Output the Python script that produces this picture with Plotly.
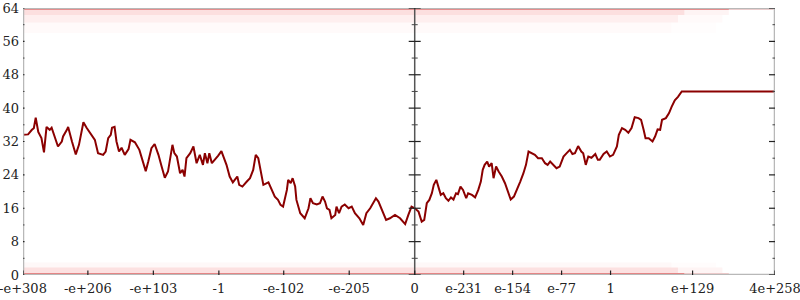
import plotly.graph_objects as go

# x axis: "decade index" (left half: -e+308 .. -0, right half: +0 .. 4e+258)
x_tick_vals = [0, 102, 205, 308, 410, 513, 616, 693, 770, 847, 924, 1053, 1182.6]
x_tick_text = ["-e+308", "-e+206", "-e+103", "-1", "-e-102", "-e-205", "0",
               "e-231", "e-154", "e-77", "1", "e+129", "4e+258"]
y_tick_vals = [0, 8, 16, 24, 32, 40, 48, 56, 64]
y_minor_vals = [4, 12, 20, 28, 36, 44, 52, 60]
x_min, x_mid, x_max = 0, 616, 1182.6

line_x = [0, 8, 14, 17, 20, 24, 29, 33, 37, 42, 45, 50, 55, 61, 63, 69, 71, 77, 83, 88,
          92, 95, 100, 108, 113, 118, 126, 130, 134, 138, 140, 144, 147, 151, 155, 160,
          166, 169, 176, 183, 189, 193, 197, 202, 207, 213, 218, 223, 228, 232, 235, 238,
          242, 247, 251, 254, 257, 263, 268, 273, 278, 283, 286, 290, 293, 297, 302, 307,
          312, 316, 320, 325, 330, 333, 337, 340, 345, 352, 357, 362, 366, 370, 374, 378,
          386, 391, 396, 401, 405, 409, 415, 417, 421, 424, 428, 430, 436, 443, 449, 452,
          456, 462, 467, 471, 475, 478, 482, 485, 491, 493, 497, 501, 506, 512, 517, 522,
          529, 535, 540, 546, 551, 555, 559, 564, 571, 577, 585, 593, 601, 606, 611, 616,
          622, 627, 631, 635, 639, 643, 646, 650, 653, 657, 661, 665, 669, 673, 677, 681,
          684, 688, 692, 697, 700, 706, 711, 716, 720, 723, 726, 730, 733, 737, 740, 744,
          748, 753, 758, 763, 767, 772, 777, 782, 787, 791, 795, 800, 805, 810, 816, 821,
          825, 829, 834, 839, 844, 850, 855, 860, 864, 868, 873, 878, 881, 885, 889, 894,
          900, 904, 907, 913, 918, 923, 928, 934, 937, 942, 947, 952, 957, 962, 968, 972,
          976, 979, 984, 990, 994, 998, 1002, 1005, 1011, 1016, 1020, 1025, 1030, 1036, 1182.6]
line_y = [33.6, 33.7, 34.8, 35.2, 37.7, 34.3, 32.8, 29.4, 35.5, 34.8, 35.3, 33.2, 30.8, 32.0,
          33.2, 34.8, 35.5, 32.0, 28.9, 31.2, 34.0, 36.6, 35.3, 33.6, 32.4, 29.2, 28.8, 29.6,
          32.8, 33.6, 35.3, 35.5, 32.0, 29.6, 30.5, 28.8, 30.2, 32.4, 31.8, 30.0, 27.2, 24.9,
          27.2, 30.4, 31.4, 28.8, 26.0, 23.3, 24.8, 28.0, 31.2, 29.2, 28.4, 24.4, 25.2, 23.6,
          28.0, 29.2, 30.8, 26.8, 28.8, 26.4, 29.2, 26.8, 29.2, 26.8, 27.6, 28.6, 29.7, 28.0,
          26.4, 23.6, 22.2, 22.8, 23.6, 21.6, 21.2, 22.4, 23.2, 25.2, 28.8, 28.0, 24.8, 21.6,
          22.2, 20.4, 18.8, 18.0, 16.8, 16.4, 20.4, 22.8, 22.0, 23.2, 21.2, 18.0, 14.8, 13.6,
          16.0, 18.4, 17.2, 16.9, 17.2, 18.8, 17.6, 16.0, 15.6, 13.6, 14.4, 16.4, 14.8, 16.4,
          16.9, 16.0, 16.4, 14.8, 13.6, 12.0, 14.8, 16.0, 17.2, 18.4, 17.6, 15.6, 13.2, 13.6,
          14.4, 13.6, 12.2, 14.4, 16.4, 16.0, 15.2, 12.8, 13.2, 17.2, 18.0, 19.6, 21.6, 22.8,
          21.2, 19.2, 19.6, 18.4, 17.8, 18.6, 18.1, 19.6, 19.4, 21.2, 20.4, 18.4, 19.6, 19.2,
          18.6, 20.4, 22.4, 25.2, 26.4, 27.2, 26.0, 26.8, 23.2, 26.0, 24.8, 23.6, 22.0, 19.6,
          18.1, 18.8, 20.4, 22.4, 24.4, 26.4, 29.6, 29.2, 28.8, 28.0, 28.0, 26.8, 26.4, 27.2,
          26.4, 25.6, 26.0, 28.4, 29.2, 30.0, 29.0, 29.2, 30.9, 29.6, 29.2, 26.4, 28.4, 28.1,
          29.0, 27.6, 27.6, 29.0, 29.6, 28.4, 28.8, 30.8, 33.6, 35.2, 34.8, 34.1, 35.2, 37.8,
          37.6, 37.2, 34.8, 32.8, 32.8, 32.0, 33.2, 34.9, 34.8, 37.2, 37.6, 38.8, 40.3, 41.9,
          42.7, 44.0, 44.0]

# density of the faint sample cloud (estimated bands)
cloud_lo = [63.5, 62.3, 60.5, 58.0, 0.0, 0.45, 1.8]
cloud_hi = [64.0, 63.5, 62.3, 60.5, 0.45, 1.8, 3.0]
cloud_alpha = [0.55, 0.14, 0.07, 0.025, 0.6, 0.13, 0.03]
cloud_end = [1110, 1040, 1030, 1020, 1040, 1030, 1020]

fig = go.Figure()

for lo, hi, a, xe in zip(cloud_lo, cloud_hi, cloud_alpha, cloud_end):
    fig.add_trace(go.Scatter(x=[x_min, xe, xe, x_min, x_min], y=[lo, lo, hi, hi, lo],
                             mode="lines", fill="toself", line=dict(width=0),
                             fillcolor=f"rgba(235,25,25,{a})", hoverinfo="skip",
                             showlegend=False))
    fig.add_trace(go.Scatter(x=[xe, xe + 70, xe + 70, xe, xe], y=[lo, lo, hi, hi, lo],
                             mode="lines", fill="toself", line=dict(width=0),
                             fillcolor=f"rgba(235,25,25,{a * 0.35})", hoverinfo="skip",
                             showlegend=False))

fig.add_trace(go.Scatter(x=line_x, y=line_y, mode="lines",
                         line=dict(color="#8b0000", width=2), hoverinfo="skip",
                         showlegend=False))

shapes = []
frame = "#b8b8b8"
shapes.append(dict(type="line", xref="x", yref="y", x0=x_min, x1=x_min, y0=0, y1=64,
                   line=dict(color=frame, width=2.5)))
shapes.append(dict(type="line", xref="x", yref="y", x0=x_max, x1=x_max, y0=0, y1=64,
                   line=dict(color=frame, width=2.5)))
shapes.append(dict(type="line", xref="x", yref="y", x0=x_min, x1=x_max, y0=64, y1=64,
                   line=dict(color=frame, width=2.5)))
shapes.append(dict(type="line", xref="x", yref="y", x0=x_min, x1=x_max, y0=0, y1=0,
                   line=dict(color=frame, width=2.5)))
shapes.append(dict(type="line", xref="x", yref="y", x0=x_mid, x1=x_mid, y0=0, y1=64,
                   line=dict(color="#555555", width=1.5)))

def ytick(xa, yv, a, b, color, w=1.2):
    return dict(type="line", xref="x", yref="y", xsizemode="pixel", xanchor=xa,
                x0=a, x1=b, y0=yv, y1=yv, line=dict(color=color, width=w))

for yv in y_tick_vals:
    shapes.append(ytick(x_min, yv, -5, 1.5, "#222222"))
    shapes.append(ytick(x_mid, yv, -6, 6, "#222222"))
    shapes.append(ytick(x_max, yv, -6, 5, "#222222"))
for yv in y_minor_vals:
    shapes.append(ytick(x_min, yv, -2.5, 1.5, "#444444", 1))
    shapes.append(ytick(x_mid, yv, -3, 3, "#444444", 1))
    shapes.append(ytick(x_max, yv, -2.5, 2.5, "#444444", 1))
for xv in x_tick_vals:
    shapes.append(dict(type="line", xref="x", yref="y", ysizemode="pixel", yanchor=0,
                       y0=-4, y1=4.5, x0=xv, x1=xv, line=dict(color="#222222", width=1.2)))

font = dict(family="DejaVu Serif", size=13, color="#222222")
fig.update_layout(
    width=800, height=300,
    margin=dict(l=23, r=25, t=8, b=25, autoexpand=False),
    paper_bgcolor="white", plot_bgcolor="white",
    shapes=shapes,
    xaxis=dict(range=[x_min - 0.01, x_max + 0.01], tickvals=x_tick_vals, ticktext=x_tick_text,
               showgrid=False, zeroline=False, showline=False, ticks="",
               tickfont=font, ticklabelstandoff=4, automargin=False,
               ticklabeloverflow="allow"),
    yaxis=dict(range=[0, 64], tickvals=y_tick_vals, showgrid=False, zeroline=False,
               showline=False, ticks="", tickfont=font, ticklabelstandoff=3,
               automargin=False, ticklabeloverflow="allow"),
)
fig.write_html("out.html")
